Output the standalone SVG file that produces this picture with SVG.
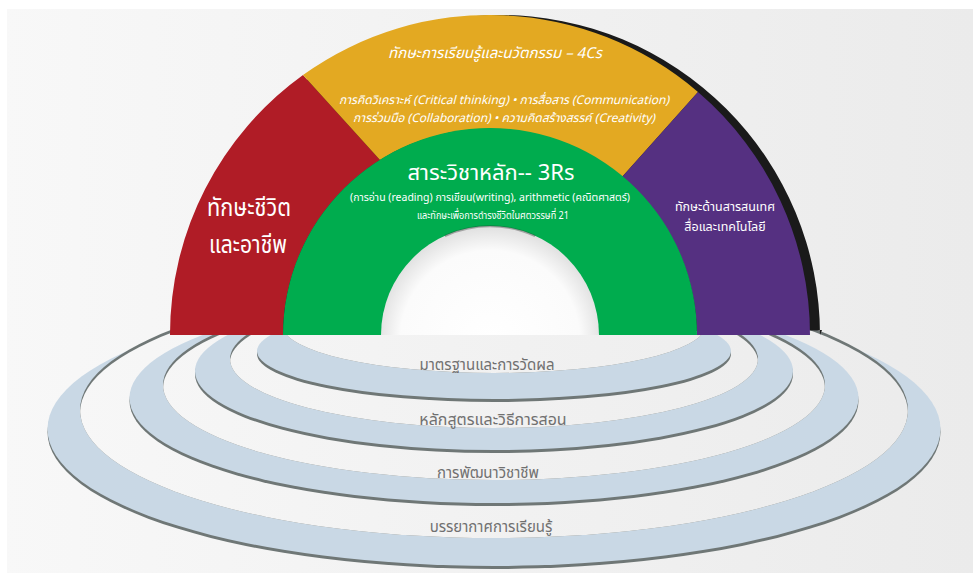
<svg xmlns="http://www.w3.org/2000/svg" width="973" height="573" viewBox="0 0 973 573">
<defs>
<linearGradient id="bg" gradientUnits="userSpaceOnUse" x1="0" y1="0" x2="973" y2="0">
<stop offset="0" stop-color="#f8f8f8"/>
<stop offset="1" stop-color="#ebebeb"/>
</linearGradient>
<radialGradient id="holeg" gradientUnits="userSpaceOnUse" cx="490" cy="340" r="112">
<stop offset="0" stop-color="#ffffff"/>
<stop offset="0.8" stop-color="#fbfbfb"/>
<stop offset="1" stop-color="#e2e2e2"/>
</radialGradient>
<clipPath id="c4"><ellipse cx="494" cy="410" rx="414" ry="128"/></clipPath>
<clipPath id="c3"><ellipse cx="494" cy="385" rx="331" ry="95"/></clipPath>
<clipPath id="c2"><ellipse cx="494" cy="359" rx="264" ry="69"/></clipPath>
<clipPath id="c1"><ellipse cx="494" cy="325" rx="212" ry="48"/></clipPath>
</defs>
<style>
.wall{fill:#6f7776}
.ring{fill:#c9d8e5}
.gap{fill:url(#bg)}
.th{font-family:'Noto Sans Thai','Noto Sans','DejaVu Sans',sans-serif;text-anchor:middle}
.w{fill:#ffffff}
.g{fill:#707070}
.it{font-style:italic}
</style>
<rect x="0" y="0" width="973" height="573" fill="#ffffff"/>
<rect x="7" y="9" width="966" height="564" fill="url(#bg)"/>

<g id="ring4">
<ellipse class="wall" cx="494" cy="432" rx="446.5" ry="137"/>
<ellipse class="ring" cx="494" cy="429" rx="446.5" ry="137"/>
<ellipse class="wall" cx="494" cy="410" rx="414" ry="128"/>
<ellipse class="gap" cx="494" cy="413" rx="414" ry="128" clip-path="url(#c4)"/>
<text class="th g" x="491" y="532" font-size="15">บรรยากาศการเรียนรู้</text>
</g>
<g id="ring3">
<ellipse class="wall" cx="494" cy="401" rx="364.5" ry="105"/>
<ellipse class="ring" cx="494" cy="398" rx="364.5" ry="105"/>
<ellipse class="wall" cx="494" cy="385" rx="331" ry="95"/>
<ellipse class="gap" cx="494" cy="388" rx="331" ry="95" clip-path="url(#c3)"/>
<text class="th g" x="488" y="478" font-size="15">การพัฒนาวิชาชีพ</text>
</g>
<g id="ring2">
<ellipse class="wall" cx="494" cy="374" rx="299" ry="79"/>
<ellipse class="ring" cx="494" cy="371" rx="299" ry="79"/>
<ellipse class="wall" cx="494" cy="359" rx="264" ry="69"/>
<ellipse class="gap" cx="494" cy="362" rx="264" ry="69" clip-path="url(#c2)"/>
<text class="th g" x="493" y="425" font-size="16">หลักสูตรและวิธีการสอน</text>
</g>
<g id="ring1">
<ellipse class="wall" cx="494" cy="354" rx="237" ry="48"/>
<ellipse class="ring" cx="494" cy="351" rx="237" ry="48"/>
<ellipse class="wall" cx="494" cy="325" rx="212" ry="48"/>
<ellipse class="gap" cx="494" cy="328" rx="212" ry="48" clip-path="url(#c1)"/>
<text class="th g" x="487" y="370" font-size="15">มาตรฐานและการวัดผล</text>
</g>

<g id="dome-shadow">
<path d="M180,335 A320,320 0 0 1 820,335 L822,330 Z" fill="#1a1a1a"/>
</g>

<g id="life-skills">
<path d="M170,335 A320,320 0 0 1 303,75 L380,160 A207,207 0 0 0 283,335 Z" fill="#b01c26"/>
<text class="th w" x="249" y="216" font-size="24" textLength="84" lengthAdjust="spacingAndGlyphs">ทักษะชีวิต</text>
<text class="th w" x="248" y="253" font-size="24" textLength="78" lengthAdjust="spacingAndGlyphs">และอาชีพ</text>
</g>

<g id="learning-4c">
<path d="M303,75 A320,320 0 0 1 698,92 L622,177 A207,207 0 0 0 380,160 Z" fill="#e3a922"/>
<text class="th w it" x="495" y="58" font-size="15">ทักษะการเรียนรู้และนวัตกรรม – 4Cs</text>
<text class="th w it" x="504" y="104" font-size="12">การคิดวิเคราะห์ (Critical thinking) • การสื่อสาร (Communication)</text>
<text class="th w it" x="504" y="122" font-size="12">การร่วมมือ (Collaboration) • ความคิดสร้างสรรค์ (Creativity)</text>
</g>

<g id="ict-skills">
<path d="M698,92 A320,320 0 0 1 810,335 L697,335 A207,207 0 0 0 622,177 Z" fill="#553081"/>
<text class="th w" x="725" y="211" font-size="12.5">ทักษะด้านสารสนเทศ</text>
<text class="th w" x="725" y="231" font-size="12.5">สื่อและเทคโนโลยี</text>
</g>

<g id="core-3rs">
<path d="M283,335 A207,207 0 0 1 697,335 Z" fill="#00ac4e"/>
<path d="M381,335 A109,109 0 0 1 599,335 Z" fill="url(#holeg)"/>
<path d="M445,236 A109,109 0 0 1 535,236" fill="none" stroke="#2a2a2a" stroke-width="2" stroke-opacity="0.35"/>
<text class="th w" x="491" y="180" font-size="22">สาระวิชาหลัก-- 3Rs</text>
<text class="th w" x="490" y="201" font-size="11" textLength="280" lengthAdjust="spacingAndGlyphs">(การอ่าน (reading) การเขียน(writing), arithmetic (คณิตศาสตร์)</text>
<text class="th w" x="493" y="219" font-size="11" textLength="152" lengthAdjust="spacingAndGlyphs">และทักษะเพื่อการดำรงชีวิตในศตวรรษที่ 21</text>
</g>
<g id="connectors"/>
</svg>
